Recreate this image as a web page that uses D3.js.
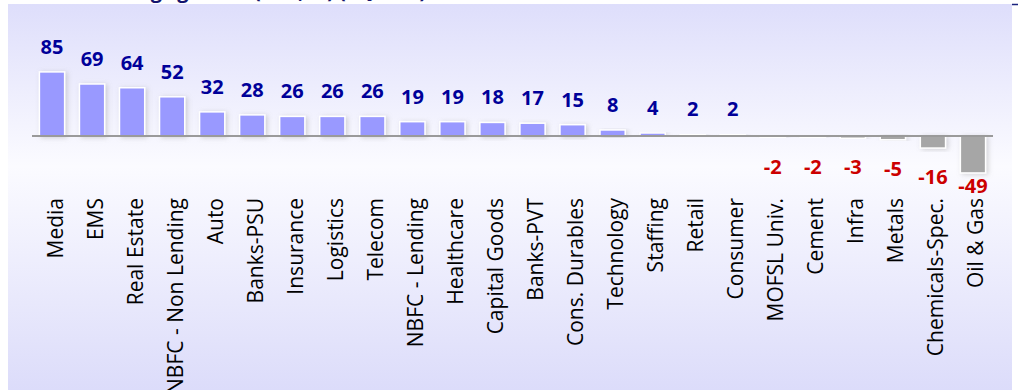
<!doctype html>
<html lang="en">
<head>
  <meta charset="utf-8">
  <title>Sector earnings growth</title>
  <style>
  html, body { margin: 0; padding: 0; background: #fff; }
  svg { display: block; font-family: "Open Sans", "Noto Sans", sans-serif; }
  .cat { font-size: 21px; fill: #000; }
  .val { font-size: 20px; font-weight: 700; }
  </style>
</head>
<body>
  <div id="chart"></div>
  <script src="https://cdn.jsdelivr.net/npm/d3@7"></script>
  <script>
    var sectors = ["Media", "EMS", "Real Estate", "NBFC - Non Lending", "Auto", "Banks-PSU",
      "Insurance", "Logistics", "Telecom", "NBFC - Lending", "Healthcare", "Capital Goods",
      "Banks-PVT", "Cons. Durables", "Technology", "Staffing", "Retail", "Consumer",
      "MOFSL Univ.", "Cement", "Infra", "Metals", "Chemicals-Spec.", "Oil & Gas"];
    var growth = [85, 69, 64, 52, 32, 28, 26, 26, 26, 19, 19, 18, 17, 15, 8, 4, 2, 2,
      -2, -2, -3, -5, -16, -49];

    (function() {
      var width = 1018,
          height = 390;

      var svg = d3.select("#chart").append("svg")
          .attr("width", width)
          .attr("height", height);

      var defs = svg.append("defs");
      var grad = defs.append("linearGradient")
          .attr("id", "bg").attr("x1", 0).attr("y1", 0).attr("x2", 0).attr("y2", 1);
      grad.append("stop").attr("offset", "0%").attr("stop-color", "#dedefb");
      grad.append("stop").attr("offset", "42%").attr("stop-color", "#fbfbff");
      grad.append("stop").attr("offset", "100%").attr("stop-color", "#dcdcfa");

      var shadow = defs.append("filter").attr("id", "shadow")
          .attr("x", "-30%").attr("y", "-30%").attr("width", "160%").attr("height", "160%");
      shadow.append("feDropShadow")
          .attr("dx", 2).attr("dy", 1).attr("stdDeviation", 2.5)
          .attr("flood-color", "#888").attr("flood-opacity", 0.35);

      // title sits above the crop, only its descenders peek in
      svg.append("text")
          .attr("x", 86).attr("y", -2.5)
          .style("font-size", "20px").style("font-weight", 700).style("fill", "#14146e")
          .text("Earnings growth (YoY, %) (4QFY25)");

      // panel
      svg.append("rect")
          .attr("x", 8).attr("y", 4)
          .attr("width", 1004).attr("height", height - 4)
          .attr("fill", "url(#bg)");
      svg.append("line")
          .attr("x1", 1012).attr("x2", width).attr("y1", 4.5).attr("y2", 4.5)
          .attr("stroke", "#1a237e").attr("stroke-width", 1.5);

      var x = d3.scaleBand()
          .domain(sectors)
          .range([32, 993])
          .paddingInner(0.37)
          .paddingOuter(0.185);

      var y = d3.scaleLinear()
          .domain([-60, 100])
          .range([136 + 60 * 0.754, 136 - 100 * 0.754]);

      var data = sectors.map(function(s, i) { return { name: s, value: growth[i] }; });

      var labelTop = 198;

      svg.append("g").selectAll("rect")
          .data(data)
        .enter().append("rect")
          .attr("x", function(d) { return x(d.name); })
          .attr("width", x.bandwidth())
          .attr("y", function(d) { return Math.min(y(d.value), y(0)); })
          .attr("height", function(d) { return Math.abs(y(d.value) - y(0)); })
          .attr("fill", function(d) { return d.value >= 0 ? "#9999ff" : "#a6a6a6"; })
          .attr("stroke", "#fff")
          .attr("stroke-width", 1.5)
          .attr("filter", "url(#shadow)");

      // zero line
      svg.append("line")
          .attr("x1", 32).attr("x2", 993)
          .attr("y1", y(0)).attr("y2", y(0))
          .attr("stroke", "#9a9a9a").attr("stroke-width", 2);

      // value labels
      svg.append("g").selectAll("text")
          .data(data)
        .enter().append("text")
          .attr("class", "val")
          .attr("text-anchor", "middle")
          .attr("x", function(d) { return x(d.name) + x.bandwidth() / 2; })
          .attr("y", function(d) {
            return d.value >= 0 ? y(d.value) - 18 : Math.min(y(d.value) + 36, labelTop - 5);
          })
          .style("fill", function(d) { return d.value >= 0 ? "#000099" : "#cc0000"; })
          .text(function(d) { return d.value; });

      // category labels, rotated
      svg.append("g").selectAll("text")
          .data(data)
        .enter().append("text")
          .attr("class", "cat")
          .attr("text-anchor", "end")
          .attr("transform", function(d) {
            return "translate(" + (x(d.name) + x.bandwidth() / 2 + 10.5) + "," + labelTop + ") rotate(-90)";
          })
          .text(function(d) { return d.name; });
    })();
  </script>
</body>
</html>
